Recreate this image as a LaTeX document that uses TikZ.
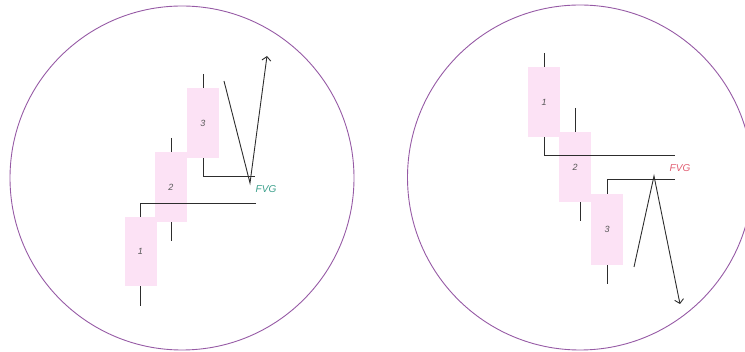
\documentclass[tikz,border=0pt]{standalone}
\usepackage{fontspec}
\setmainfont{Liberation Sans}
\usetikzlibrary{arrows.meta}
\definecolor{ring}{RGB}{150,90,165}
\definecolor{candlefill}{RGB}{252,226,245}
\definecolor{ink}{RGB}{45,45,45}
\definecolor{fvgup}{RGB}{60,160,140}
\definecolor{fvgdown}{RGB}{225,95,115}
\tikzset{
  candle/.style={fill=candlefill, draw=none, minimum width=32pt, inner sep=0pt,
    font=\itshape\fontsize{9}{9}\selectfont, text=ink!80},
  ln/.style={draw=ink, line width=0.9pt},
  circ/.style={draw=ring, line width=0.9pt},
  arr/.style={ln, -{Straight Barb[length=4pt,width=9pt,line width=0.9pt]}},
  fvg/.style={font=\itshape\fontsize{10}{10}\selectfont, inner sep=0pt}
}
\begin{document}
\begin{tikzpicture}[x=1pt,y=-1pt]
\useasboundingbox (0,0) rectangle (745,352);
\begin{scope}
\clip (0,0) rectangle (745,352);
\draw[circ] (182,178) circle[radius=172];
\draw[circ] (580,177.5) circle[radius=172.5];
\end{scope}

% ---------- left: bullish FVG ----------
\node[candle, minimum height=69pt] (L1) at (140.5,251.5) {1};
\node[candle, minimum height=70pt] (L2) at (171,187) {2};
\node[candle, minimum height=70pt] (L3) at (203,123) {3};
\coordinate (L1top) at (140,203);
\coordinate (L1bot) at (140,306);
\coordinate (L2top) at (171,138);
\coordinate (L2bot) at (171,241);
\coordinate (L3top) at (203,74);
\coordinate (L3bot) at (203,176);
\coordinate (Lend1) at (256,203);
\coordinate (Lend3) at (255,176);
\draw[ln] (Lend1) -- (L1top) -- (L1top |- L1.north);
\draw[ln] (L1bot) -- (L1bot |- L1.south);
\draw[ln] (L2top) -- (L2top |- L2.north);
\draw[ln] (L2bot) -- (L2bot |- L2.south);
\draw[ln] (L3top) -- (L3top |- L3.north);
\draw[ln] (L3.south -| L3bot) -- (L3bot) -- (Lend3);
\node[fvg, text=fvgup] (Lfvg) at (266,189) {FVG};
\coordinate (Lv0) at (224,81);
\coordinate (Lv1) at (250,183);
\coordinate (Lv2) at (267,56);
\draw[arr] (Lv0) -- (Lv1) -- (Lv2);

% ---------- right: bearish FVG ----------
\node[candle, minimum height=70pt] (R1) at (544,102) {1};
\node[candle, minimum height=70pt] (R2) at (575,167) {2};
\node[candle, minimum height=71pt] (R3) at (607,229.5) {3};
\coordinate (R1top) at (544,53);
\coordinate (R1bot) at (544,155);
\coordinate (R2top) at (575,108);
\coordinate (R2bot) at (580,221);
\coordinate (R3top) at (607,179);
\coordinate (R3bot) at (607,284);
\coordinate (Rend1) at (675,155);
\coordinate (Rend3) at (675,179);
\draw[ln] (R1top) -- (R1top |- R1.north);
\draw[ln] (R1.south -| R1bot) -- (R1bot) -- (Rend1);
\draw[ln] (R2top) -- (R2top |- R2.north);
\draw[ln] (R2bot) -- (R2bot |- R2.south);
\draw[ln] (Rend3) -- (R3top) -- (R3top |- R3.north);
\draw[ln] (R3bot) -- (R3bot |- R3.south);
\node[fvg, text=fvgdown] (Rfvg) at (680,168) {FVG};
\coordinate (Rv0) at (634,267);
\coordinate (Rv1) at (654,176);
\coordinate (Rv2) at (680,304);
\draw[arr] (Rv0) -- (Rv1) -- (Rv2);
\end{tikzpicture}
\end{document}
